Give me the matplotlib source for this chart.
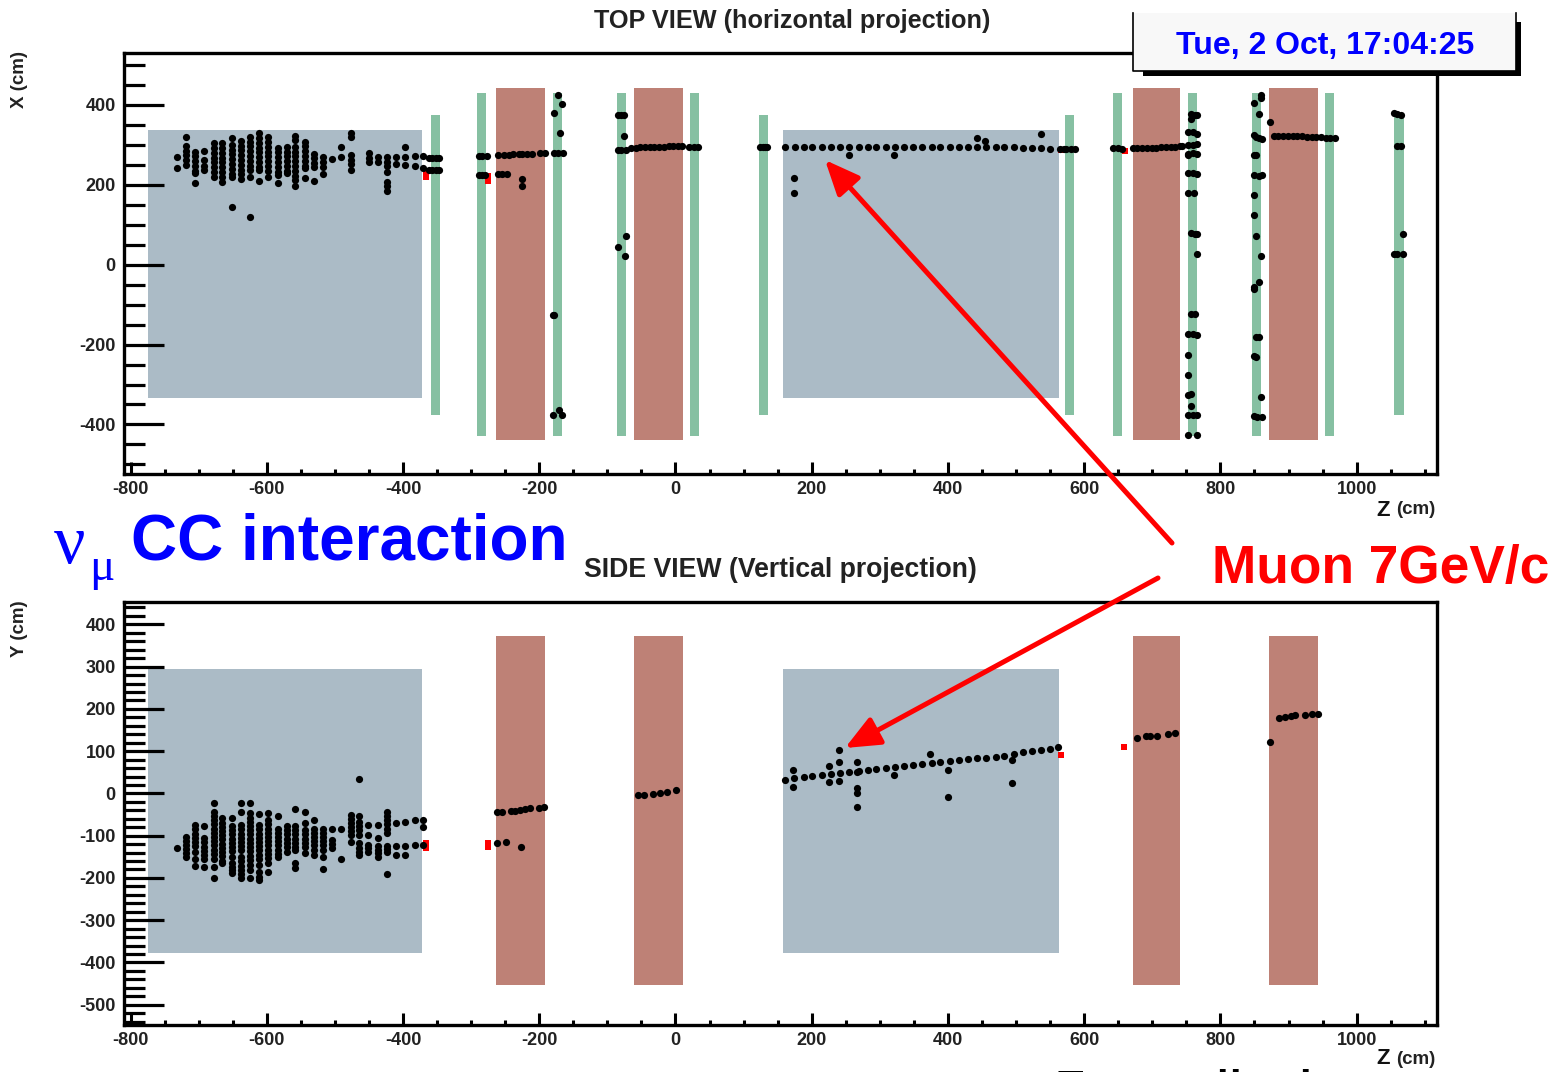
import matplotlib
matplotlib.use('Agg')
import matplotlib.pyplot as plt
from matplotlib.patches import Rectangle, FancyArrowPatch
from matplotlib.ticker import MultipleLocator

plt.rcParams['font.family'] = ['Liberation Sans', 'DejaVu Sans']
plt.rcParams['axes.unicode_minus'] = False

# detector blocks, z ranges in cm
target_z = [(-774, -372), (158, 563)]
magnet_z = [(-263, -191), (-61, 11), (671, 741), (872, 944)]
green_short_z = [(-359, -346), (123, 136), (572, 585), (1055, 1069)]
green_tall_z = [(-291, -278), (-180, -166), (-86, -72), (22, 35),
                (642, 656), (752, 766), (847, 860), (954, 967)]

# top view hits: vertex shower, one list of x per z column
top_shower_z = [-732, -718, -705, -692, -678, -665, -651, -638, -625, -611, -598, -584, -571, -558,
                -544, -531, -517, -504, -491, -477, -450, -437, -424, -410, -397, -383, -370]
top_shower_x = [
    [270, 241],
    [320, 297, 285, 274, 262, 250],
    [283, 271, 259, 247, 235, 229, 204],
    [285, 262, 247, 237],
    [304, 292, 280, 268, 256, 244, 232, 220],
    [304, 292, 280, 268, 256, 244, 232, 220, 206],
    [318, 300, 288, 276, 264, 252, 240, 228, 220, 145],
    [310, 298, 286, 274, 262, 250, 238, 226, 215],
    [320, 308, 296, 284, 272, 260, 248, 237, 220, 120],
    [329, 317, 305, 293, 281, 269, 257, 245, 237, 209],
    [319, 307, 295, 283, 271, 259, 247, 235, 220],
    [293, 281, 269, 257, 245, 233, 224, 204],
    [295, 283, 271, 259, 247, 235, 229],
    [322, 312, 295, 283, 271, 259, 247, 235, 223, 212, 198],
    [308, 296, 284, 272, 260, 248, 241, 218],
    [278, 266, 254, 245, 210],
    [270, 258, 245, 228],
    [264],
    [295, 269],
    [329, 320, 275, 263, 251, 237],
    [279, 268, 258],
    [269, 256],
    [269, 256, 246, 233, 208, 197, 185],
    [270, 252],
    [295, 270, 250],
    [272, 247],
    [271, 243],
]

# top view hits outside the shower
top_z = [-362, -358, -352, -347, -362, -358, -352, -347,
         -289, -284, -277, -289, -284, -279,
         -261, -252, -245, -238, -230, -225, -218, -211, -199, -191,
         -261, -255, -247, -226, -226,
         -178, -172, -165, -173, -166, -178, -170, -180, -178, -180, -171, -166,
         -85, -80, -75, -75, -85, -80, -72, -84, -72, -74,
         -65, -58, -52, -45, -38, -31, -24, -17, -10, -3, 4, 10, 20, 27, 33,
         124, 128, 132, 135,
         161, 175, 188, 201, 215, 228, 242, 255, 269, 282, 295, 309, 322, 336, 349, 362,
         376, 389, 403, 416, 430, 443, 456, 470, 483, 497, 510, 524, 537, 550, 564,
         174, 174, 255, 321, 442, 455, 536,
         570, 574, 580, 586,
         643, 650, 656,
         671, 678, 685, 692, 699, 706, 713, 720, 727, 734, 740, 744,
         757, 762, 766, 757, 753, 760, 766, 753, 760, 766, 753, 760, 766, 753,
         753, 760, 766, 753, 761, 757, 762, 766, 765, 757, 762, 753, 760, 766,
         753, 753, 753, 757, 757, 753, 760, 766, 753, 765,
         860, 860, 849, 856, 873, 849, 852, 856, 861, 849, 852, 849, 856, 861,
         849, 849, 852, 860, 856, 849, 849, 852, 856, 849, 852, 860, 849, 854, 861,
         878, 885, 892, 899, 906, 913, 920, 927, 934, 941, 947,
         955, 961, 968,
         1055, 1060, 1065, 1059, 1065, 1068, 1055, 1060, 1068]
top_x = [268, 268, 268, 268, 236, 236, 236, 236,
         272, 272, 272, 224, 224, 224,
         275, 275, 275, 276, 276, 277, 278, 278, 280, 280,
         227, 227, 227, 214, 197,
         280, 280, 280, 426, 402, 379, 329, -127, -125, -377, -365, -377,
         374, 374, 374, 322, 287, 287, 287, 44, 72, 22,
         293, 293, 294, 294, 294, 295, 295, 295, 296, 296, 296, 296, 294, 294, 294,
         295, 295, 295, 295,
         294, 294, 294, 294, 294, 294, 294, 294, 294, 294, 294, 294, 294, 294, 294, 294,
         294, 294, 294, 294, 294, 294, 294, 294, 294, 294, 293, 292, 291, 290, 289,
         217, 180, 274, 274, 317, 310, 327,
         289, 290, 290, 290,
         291, 291, 290,
         291, 291, 292, 292, 293, 293, 294, 294, 295, 295, 296, 297,
         377, 375, 375, 366, 333, 331, 328, 300, 300, 302, 277, 279, 277, 274,
         229, 229, 228, 179, 179, 79, 77, 76, 26, -123, -123, -173, -173, -175,
         -225, -275, -325, -324, -354, -376, -376, -376, -426, -426,
         425, 417, 405, 377, 358, 325, 320, 316, 315, 274, 274, 224, 223, 224,
         174, 124, 71, 22, -43, -55, -62, -182, -182, -229, -232, -330, -380, -381, -381,
         323, 323, 323, 322, 322, 321, 321, 320, 320, 319, 319,
         316, 316, 316,
         379, 377, 376, 297, 297, 76, 27, 27, 27]

# side view hits: vertex shower, one list of y per z column
side_shower_z = [-732, -718, -705, -692, -678, -665, -651, -638, -625, -611, -598, -584, -571, -558,
                 -544, -531, -517, -504, -491, -477, -464, -451, -437, -424, -410, -397, -383, -370]
side_shower_y = [
    [-130],
    [-102, -112, -122, -132, -142, -150],
    [-75, -85, -95, -105, -115, -125, -138, -154, -171],
    [-78, -106, -116, -126, -136, -146, -154, -173],
    [-22, -43, -53, -63, -73, -83, -93, -103, -113, -123, -133, -143, -154, -175, -199],
    [-59, -69, -79, -89, -99, -109, -119, -129, -139, -149, -159, -165],
    [-57, -77, -87, -97, -107, -117, -127, -137, -150, -165, -175, -182, -189],
    [-22, -43, -75, -85, -95, -105, -115, -125, -135, -150, -161, -171, -181, -190, -199],
    [-22, -47, -57, -67, -77, -87, -97, -107, -117, -127, -137, -147, -157, -169, -181, -201],
    [-49, -75, -85, -95, -105, -115, -125, -135, -145, -155, -169, -185, -197, -205],
    [-47, -63, -73, -83, -93, -103, -113, -123, -133, -143, -153, -165, -185],
    [-53, -83, -93, -103, -113, -123, -133, -143, -150],
    [-77, -87, -97, -107, -117, -127, -138],
    [-38, -77, -87, -97, -107, -117, -127, -134, -165, -177],
    [-43, -71, -87, -97, -107, -117, -127, -142],
    [-63, -83, -93, -103, -113, -123, -133, -146],
    [-83, -93, -103, -113, -123, -134, -151, -178],
    [-85, -110, -120, -130],
    [-83, -156],
    [-51, -60, -70, -80, -90, -98, -114],
    [34, -53, -67, -77, -87, -98, -118, -128, -138, -146],
    [-75, -98, -122, -130, -138],
    [-75, -106, -124, -134, -142, -150],
    [-43, -53, -63, -73, -83, -94, -124, -131, -138, -191],
    [-69, -124, -146],
    [-67, -124, -146],
    [-64, -123],
    [-64, -79, -123],
]

# side view hits outside the shower
side_z = [-262, -255, -242, -235, -228, -221, -213, -200, -193, -262, -249, -227,
          -55, -46, -33, -22, -12, 1,
          161, 174, 188, 201, 215, 228, 242, 255, 269, 282, 295, 309, 322, 336, 349, 362,
          376, 389, 403, 416, 430, 443, 456, 470, 483, 497, 510, 524, 537, 550, 562,
          173, 173, 226, 226, 240, 240, 240, 267, 267, 267, 267, 267, 321, 374, 400, 400, 494, 494,
          678, 691, 697, 707, 723, 733,
          873, 886, 895, 903, 910, 924, 935, 943]
side_y = [-45, -45, -42, -41, -39, -38, -35, -34, -31, -118, -115, -127,
          -4, -4, -1, 2, 4, 8,
          32, 36, 38, 41, 44, 46, 48, 51, 54, 56, 57, 60, 62, 65, 67, 69,
          71, 74, 76, 78, 81, 84, 85, 87, 88, 93, 97, 100, 103, 106, 110,
          15, 56, 65, 27, 103, 75, 30, 75, 50, 13, 1, -32, 44, 94, 56, -8, 79, 25,
          131, 136, 136, 136, 141, 143,
          122, 178, 181, 183, 185, 186, 188, 188]

# red reconstructed points
top_red_z = [-366, -366, -275, -275, 566, 660]
top_red_x = [234, 220, 222, 209, 287, 285]
side_red_z = [-366, -366, -275, -275, 566, 659]
side_red_y = [-118, -129, -117, -127, 91, 110]

tick_z = [-800, -600, -400, -200, 0, 200, 400, 600, 800, 1000]
tick_top = [-400, -200, 0, 200, 400]
tick_side = [-500, -400, -300, -200, -100, 0, 100, 200, 300, 400]

BLUE = '#ABBBC6'
GREEN = '#86C0A2'
BROWN = '#BE8176'
DOT = 27
W, H = 1552, 1072


def panel(y_top, y_bot, ylim, minor, yticks):
    ax = fig.add_axes([124 / W, 1 - y_bot / H, (1437 - 124) / W, (y_bot - y_top) / H])
    ax.set_xlim(-809.6, 1118)
    ax.set_ylim(*ylim)
    for side in ['top', 'right', 'left', 'bottom']:
        ax.spines[side].set_linewidth(2.4)
    ax.set_xticks(tick_z)
    ax.xaxis.set_minor_locator(MultipleLocator(50))
    ax.set_yticks(yticks)
    ax.yaxis.set_minor_locator(MultipleLocator(minor))
    ax.tick_params(axis='x', which='major', direction='in', length=8.5, width=2.2, labelsize=13, pad=5)
    ax.tick_params(axis='x', which='minor', direction='in', length=3.5, width=2.2)
    ax.tick_params(axis='y', which='major', direction='in', length=29, width=2.3, labelsize=13, pad=6)
    ax.tick_params(axis='y', which='minor', direction='in', length=15, width=2.3)
    for lab in ax.get_xticklabels() + ax.get_yticklabels():
        lab.set_fontweight('bold')
        lab.set_color('#222222')
    return ax


def add_block(ax, z0, z1, y0, y1, color):
    ax.add_patch(Rectangle((z0, y0), z1 - z0, y1 - y0, facecolor=color, edgecolor='none', zorder=1))


fig = plt.figure(figsize=(W / 100, H / 100), dpi=100)

# top view
ax1 = panel(53, 474, (-524, 530), 50, tick_top)
for z0, z1 in target_z:
    add_block(ax1, z0, z1, -334, 337, BLUE)
for z0, z1 in magnet_z:
    add_block(ax1, z0, z1, -439, 442, BROWN)
for z0, z1 in green_short_z:
    add_block(ax1, z0, z1, -376, 375, GREEN)
for z0, z1 in green_tall_z:
    add_block(ax1, z0, z1, -429, 430, GREEN)
ax1.scatter(top_red_z, top_red_x, s=19, marker='s', color='#FF0000', linewidths=0, zorder=2)
for z, xs in zip(top_shower_z, top_shower_x):
    ax1.scatter([z] * len(xs), xs, s=DOT, color='black', linewidths=0, zorder=3)
ax1.scatter(top_z, top_x, s=DOT, color='black', linewidths=0, zorder=3)

# side view
ax2 = panel(602, 1025, (-548, 453), 20, tick_side)
for z0, z1 in target_z:
    add_block(ax2, z0, z1, -377, 295, BLUE)
for z0, z1 in magnet_z:
    add_block(ax2, z0, z1, -453, 373, BROWN)
ax2.scatter(side_red_z, side_red_y, s=19, marker='s', color='#FF0000', linewidths=0, zorder=2)
for z, ys in zip(side_shower_z, side_shower_y):
    ax2.scatter([z] * len(ys), ys, s=DOT, color='black', linewidths=0, zorder=3)
ax2.scatter(side_z, side_y, s=DOT, color='black', linewidths=0, zorder=3)

# overlay in image pixels for texts, box and arrows
over = fig.add_axes([0, 0, 1, 1], zorder=10)
over.set_xlim(0, W)
over.set_ylim(H, 0)
over.axis('off')

over.text(792, 21, 'TOP VIEW (horizontal projection)', fontsize=18.2, fontweight='bold', color='#222222', ha='center', va='center')
over.text(780, 570, 'SIDE VIEW (Vertical projection)', fontsize=19.2, fontweight='bold', color='#222222', ha='center', va='center')
over.text(20, 79, 'X (cm)', fontsize=13.5, fontweight='bold', color='#222222', rotation=90, ha='center', va='center')
over.text(20, 629, 'Y (cm)', fontsize=13.5, fontweight='bold', color='#222222', rotation=90, ha='center', va='center')
for ypos in [510, 1059]:
    over.text(1390, ypos, 'Z', fontsize=16, fontweight='bold', color='#111111', ha='right', va='center')
    over.text(1435, ypos, '(cm)', fontsize=13.5, fontweight='bold', color='#222222', ha='right', va='center')

over.text(131, 543, 'CC interaction', fontsize=46, fontweight='bold', color='#0000FF', ha='left', va='center')
over.text(54, 546, '\u03bd', fontsize=50, family='Liberation Serif', color='#0000FF', ha='left', va='center')
over.text(89, 569, '\u03bc', fontsize=34, family='Liberation Serif', color='#0000FF', ha='left', va='center')
over.text(1212, 569, 'Muon 7GeV/c', fontsize=38.3, fontweight='bold', color='#FF0000', ha='left', va='center')

# date box with its shadow
over.add_patch(Rectangle((1143, 22), 378, 54, facecolor='black', edgecolor='none'))
over.add_patch(Rectangle((1133, 13), 383, 58, facecolor='#F8F8F8', edgecolor='none'))
over.plot([1133, 1133, 1516, 1516], [13, 71, 71, 13], color='black', lw=1.2)
over.text(1325, 46, 'Tue, 2 Oct, 17:04:25', fontsize=23, fontweight='bold', color='#0000FF', ha='center', va='center')

for start, end in [((1172, 543), (825, 160)), ((1158, 578), (845, 748))]:
    over.add_patch(FancyArrowPatch(start, end, arrowstyle='-|>,head_length=1.5,head_width=0.65', mutation_scale=14,
                                   color='#FF0000', lw=3.6, shrinkA=0, shrinkB=0))

# tops of a large caption cut off by the bottom edge of the picture
for xpos, piece in [(1057, 'T'), (1216, 'l'), (1229, 'l'), (1299, 'l')]:
    over.text(xpos, 1069, piece, fontsize=30, fontweight='bold', color='black', ha='left', va='top', clip_on=False)

fig.savefig('out.png', dpi=100)
